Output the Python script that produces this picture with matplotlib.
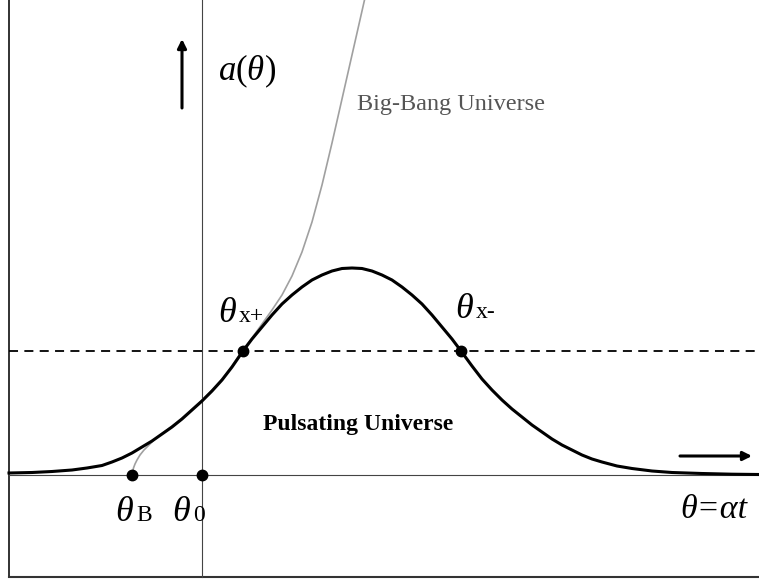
import numpy as np
import matplotlib
matplotlib.use("Agg")
import matplotlib.pyplot as plt

plt.rcParams['font.family'] = ['Liberation Serif', 'DejaVu Serif']
plt.rcParams['mathtext.fontset'] = 'custom'
plt.rcParams['mathtext.rm'] = 'Liberation Serif'
plt.rcParams['mathtext.it'] = 'Liberation Serif:italic'
plt.rcParams['mathtext.bf'] = 'Liberation Serif:bold'

# Pulsating universe a(theta)
theta_p = [-1.93, -1.70, -1.50, -1.30, -1.15, -1.00, -0.90, -0.80, -0.70, -0.60,
           -0.50, -0.40, -0.30, -0.20, -0.10, 0.00, 0.10, 0.20, 0.30, 0.41,
           0.50, 0.60, 0.70, 0.80, 0.90, 1.00, 1.10, 1.20, 1.30, 1.40,
           1.50, 1.60, 1.70, 1.80, 1.90, 2.00, 2.10, 2.20, 2.30, 2.40,
           2.50, 2.59, 2.70, 2.80, 2.90, 3.00, 3.10, 3.20, 3.30, 3.40,
           3.50, 3.60, 3.70, 3.80, 3.90, 4.00, 4.15, 4.30, 4.50, 4.70,
           5.00, 5.30, 5.57]
a_p = [0.020, 0.025, 0.035, 0.050, 0.070, 0.095, 0.13, 0.17, 0.22, 0.28,
       0.34, 0.41, 0.48, 0.56, 0.65, 0.74, 0.84, 0.95, 1.08, 1.24,
       1.36, 1.48, 1.60, 1.71, 1.80, 1.88, 1.95, 2.00, 2.04, 2.065,
       2.07, 2.065, 2.04, 2.00, 1.95, 1.88, 1.80, 1.71, 1.60, 1.48,
       1.36, 1.24, 1.09, 0.96, 0.85, 0.75, 0.66, 0.58, 0.50, 0.43,
       0.36, 0.30, 0.25, 0.20, 0.16, 0.13, 0.09, 0.065, 0.04, 0.025,
       0.015, 0.008, 0.005]

# Big-Bang universe
theta_b = [-0.70, -0.695, -0.685, -0.67, -0.65, -0.62, -0.58, -0.53, -0.48, -0.42,
           -0.30, -0.20, -0.10, 0.00, 0.10, 0.20, 0.30, 0.40, 0.50, 0.60,
           0.70, 0.80, 0.90, 1.00, 1.10, 1.20, 1.30, 1.40, 1.50, 1.60, 1.625]
a_b = [0.00, 0.03, 0.07, 0.11, 0.15, 0.20, 0.25, 0.30, 0.35, 0.40,
       0.49, 0.57, 0.66, 0.75, 0.85, 0.96, 1.09, 1.24, 1.37, 1.51,
       1.65, 1.80, 1.99, 2.23, 2.53, 2.90, 3.32, 3.76, 4.20, 4.64, 4.75]

a_x = 1.24                      # dashed level
dots_theta = [-0.70, 0.00, 0.41, 2.59]
dots_a = [0.0, 0.0, 1.24, 1.24]

fig = plt.figure(figsize=(7.59, 5.79), dpi=100)
ax = fig.add_axes([0, 0, 1, 1])
ax.set_xlim(-2.02, 5.57)
ax.set_ylim(-1.04, 4.75)
ax.axis('off')

# frame (left + bottom) and axes
ax.plot([-1.93, -1.93], [-1.02, 4.75], color='#222222', lw=1.3)
ax.plot([-1.93, 5.57], [-1.02, -1.02], color='#333333', lw=1.5)
ax.plot([0, 0], [-1.02, 4.75], color='#444444', lw=0.8)
ax.plot([-1.93, 5.57], [0, 0], color='#444444', lw=0.8)
ax.plot([-1.93, 5.57], [a_x, a_x], color='black', lw=1.3, ls=(0, (5, 3.5)))

ax.plot(theta_b, a_b, color='#a0a0a0', lw=1.2, solid_joinstyle='round')
ax.plot(theta_p, a_p, color='black', lw=2.2, solid_joinstyle='round')
ax.plot(dots_theta, dots_a, 'o', color='black', ms=7.5)

# arrows
ax.annotate('', xy=(-0.20, 4.36), xytext=(-0.20, 3.67),
            arrowprops=dict(arrowstyle='-|>', color='black', lw=2.2,
                            mutation_scale=13, shrinkA=0, shrinkB=0))
ax.annotate('', xy=(5.50, 0.19), xytext=(4.78, 0.19),
            arrowprops=dict(arrowstyle='-|>', color='black', lw=2.2,
                            mutation_scale=13, shrinkA=0, shrinkB=0))

# labels
ax.text(0.16, 3.95, r'$a$(${\theta}$)', fontsize=25, va='baseline')
ax.text(1.55, 3.65, 'Big-Bang Universe', fontsize=17.5, color='#555555', va='baseline')
ax.text(0.61, 0.45, 'Pulsating Universe', fontsize=17, fontweight='bold', va='baseline')

ax.text(0.16, 1.53, 'θ', fontsize=26, style='italic', va='baseline')
ax.text(0.37, 1.53, 'x+', fontsize=17, va='baseline')
ax.text(2.53, 1.57, 'θ', fontsize=26, style='italic', va='baseline')
ax.text(2.74, 1.57, 'x-', fontsize=17, va='baseline')
ax.text(-0.87, -0.46, 'θ', fontsize=26, style='italic', va='baseline')
ax.text(-0.66, -0.46, 'B', fontsize=17, va='baseline')
ax.text(-0.30, -0.46, 'θ', fontsize=26, style='italic', va='baseline')
ax.text(-0.09, -0.46, '0', fontsize=17, va='baseline')
ax.text(4.78, -0.43, 'θ=αt', fontsize=24.5, style='italic', va='baseline')

fig.savefig('out.png', dpi=100)
